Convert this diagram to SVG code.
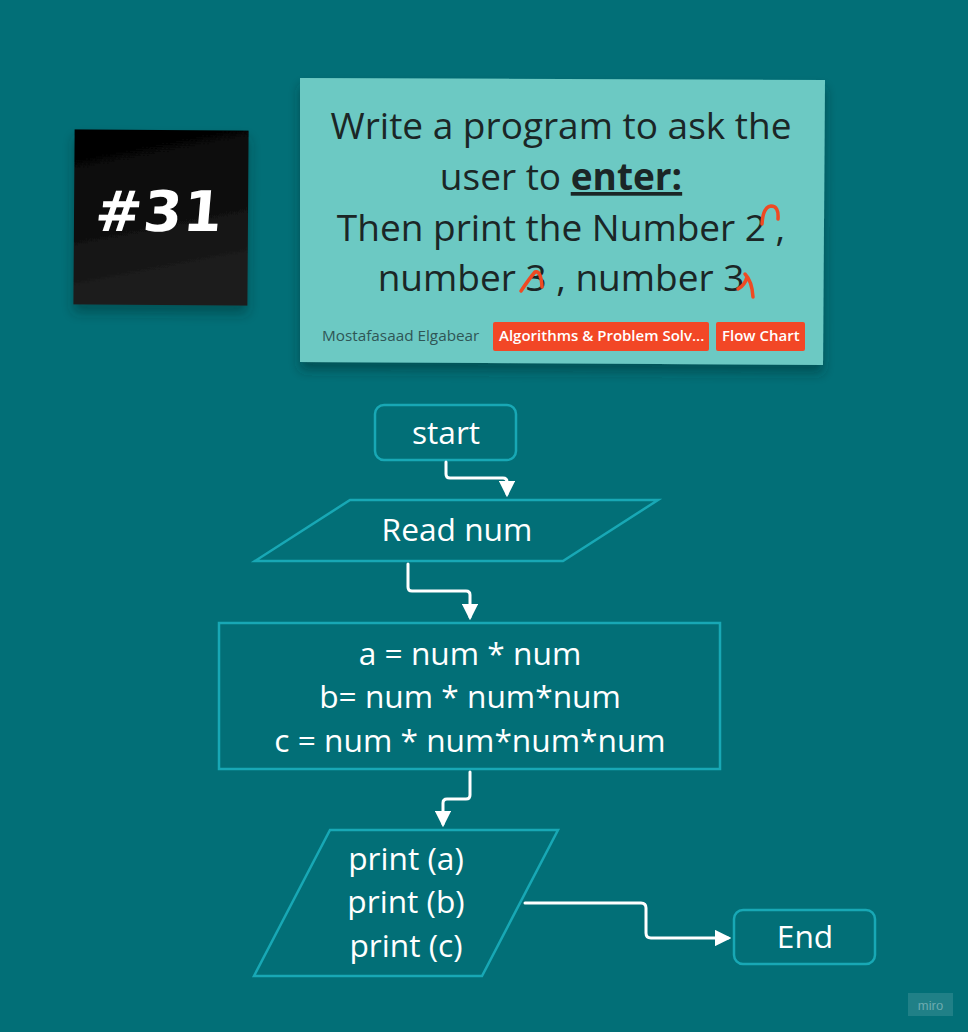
<svg xmlns="http://www.w3.org/2000/svg" width="968" height="1032" viewBox="0 0 968 1032">
<style>
.bg{fill:#026f77}
.shape{fill:none;stroke:#18a8b5;stroke-width:2.5}
.lbl{font-family:"Open Sans","Liberation Sans",sans-serif;font-size:31.7px;fill:#ffffff;text-anchor:middle}
.card{font-family:"Open Sans","Liberation Sans",sans-serif;font-size:37px;fill:#1b2626;text-anchor:middle}
.conn{fill:none;stroke:#ffffff;stroke-width:3;stroke-linejoin:round;stroke-linecap:round}
.mark{fill:none;stroke:#ef4a23;stroke-width:3.5;stroke-linecap:round;stroke-linejoin:round}
.tag{fill:#f24726}
.tagt{font-family:"Open Sans","Liberation Sans",sans-serif;font-size:15px;font-weight:600;fill:#ffffff}
</style>
<defs>
<linearGradient id="blk" x1="0" y1="0" x2="0.2" y2="1">
<stop offset="0" stop-color="#030303"/>
<stop offset="0.45" stop-color="#0b0b0b"/>
<stop offset="1" stop-color="#1f1f1f"/>
</linearGradient>
<filter id="sh" x="-10%" y="-10%" width="120%" height="130%">
<feDropShadow dx="0" dy="8" stdDeviation="6" flood-color="#002a2e" flood-opacity="0.45"/>
</filter>
<marker id="arr" viewBox="0 0 10 10" refX="8" refY="5" markerWidth="5.5" markerHeight="5.5" orient="auto" markerUnits="strokeWidth">
<path d="M0,0 L10,5 L0,10 z" fill="#ffffff"/>
</marker>
</defs>
<rect class="bg" x="0" y="0" width="968" height="1032"/>

<g id="sticky">
<rect x="74" y="130" width="174" height="175" fill="url(#blk)" filter="url(#sh)" transform="rotate(0.4 161 217)"/>
<text x="158" y="231" font-family="DejaVu Sans, sans-serif" font-size="56" font-weight="bold" fill="#ffffff" text-anchor="middle" transform="skewX(-5) translate(20 0)" letter-spacing="1">#31</text>
</g>

<g id="card">
<polygon points="300,78 825,80 823,365 300,362" fill="#6cc9c3" filter="url(#sh)"/>
<text class="card" x="561" y="139">Write a program to ask the</text>
<text class="card" x="561" y="190">user to <tspan font-weight="bold" text-decoration="underline">enter:</tspan></text>
<text class="card" x="561" y="241">Then print the Number 2 ,</text>
<text class="card" x="561" y="291">number 3 , number 3</text>
<path class="mark" d="M762,224 Q763,207 771,206 Q779,206 778,219"/>
<path class="mark" d="M521,291 Q529,279 535,272 Q541,270 542,287"/>
<path class="mark" d="M738,289 Q745,285 747,277 M745,274 Q752,281 753,297"/>
<text x="322" y="341" font-family="Open Sans, Liberation Sans, sans-serif" font-size="15.3" fill="#2f5656">Mostafasaad Elgabear</text>
<rect class="tag" x="493" y="322" width="216" height="29" rx="2"/>
<text class="tagt" x="499" y="341">Algorithms &amp; Problem Solv...</text>
<rect class="tag" x="716" y="322" width="89" height="29" rx="2"/>
<text class="tagt" x="722" y="341">Flow Chart</text>
</g>

<g id="start">
<rect class="shape" x="375" y="405" width="141" height="55" rx="9"/>
<text class="lbl" x="446" y="444">start</text>
</g>

<g id="read">
<polygon class="shape" points="350,500 658,500 563,561 255,561"/>
<text class="lbl" x="457" y="541">Read num</text>
</g>

<g id="process">
<rect class="shape" x="219" y="623" width="501" height="146"/>
<text class="lbl" x="470" y="665">a = num * num</text>
<text class="lbl" x="470" y="708">b= num * num*num</text>
<text class="lbl" x="470" y="752">c = num * num*num*num</text>
</g>

<g id="print">
<polygon class="shape" points="330,830 558,830 482,976 254,976"/>
<text class="lbl" x="406" y="870">print (a)</text>
<text class="lbl" x="406" y="913">print (b)</text>
<text class="lbl" x="406" y="957">print (c)</text>
</g>

<g id="end">
<rect class="shape" x="734" y="910" width="141" height="54" rx="9"/>
<text class="lbl" x="805" y="948">End</text>
</g>

<g id="connectors">
<path class="conn" marker-end="url(#arr)" d="M446,462 V474 Q446,478 450,478 H503 Q507,478 507,482 V494"/>
<path class="conn" marker-end="url(#arr)" d="M408,564 V587 Q408,591 412,591 H466 Q470,591 470,595 V617"/>
<path class="conn" marker-end="url(#arr)" d="M470,772 V795 Q470,799 466,799 H447 Q443,799 443,803 V824"/>
<path class="conn" marker-end="url(#arr)" d="M525,903 H641 Q646,903 646,908 V933 Q646,938 651,938 H728"/>
</g>

<g id="miro">
<rect x="908" y="993" width="45" height="23" fill="#ffffff" fill-opacity="0.12"/>
<text x="930.5" y="1010" font-family="Liberation Sans, sans-serif" font-size="13" fill="#ffffff" fill-opacity="0.35" text-anchor="middle">miro</text>
</g>
</svg>
